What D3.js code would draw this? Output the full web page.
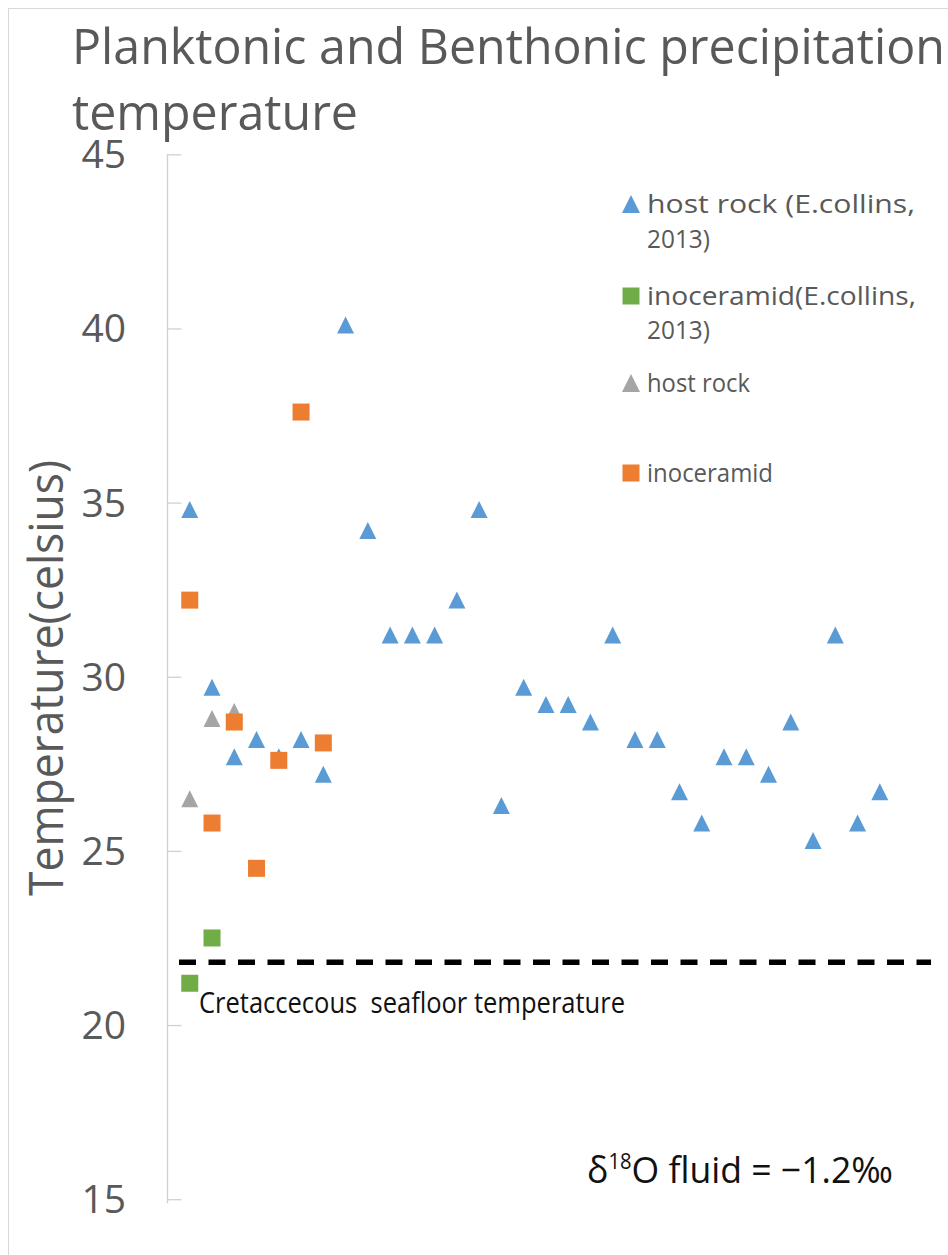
<!DOCTYPE html>
<html>
<head>
<meta charset="utf-8">
<script src="https://cdn.jsdelivr.net/npm/d3@7"></script>
<style>
  html, body { margin: 0; padding: 0; background: #fff; }
  svg { display: block; }
  text { font-family: "Open Sans", "Noto Sans", sans-serif; white-space: pre; }
</style>
</head>
<body>
<svg id="chart" width="948" height="1255"></svg>
<script>
// Sample positions (1..32) along the section
const hostRockCollins = [34.8, 29.7, 27.7, 28.2, 27.7, 28.2, 27.2, 40.1, 34.2, 31.2,
  31.2, 31.2, 32.2, 34.8, 26.3, 29.7, 29.2, 29.2, 28.7, 31.2, 28.2, 28.2, 26.7, 25.8,
  27.7, 27.7, 27.2, 28.7, 25.3, 31.2, 25.8, 26.7];
const inoceramidCollins = [21.2, 22.5];
const hostRock = [26.5, 28.8, 29.0];
const inoceramid = [32.2, 25.8, 28.7, 24.5, 27.6, 37.6, 28.1];

const yTicks = [15, 20, 25, 30, 35, 40, 45];
const seafloorTemp = 21.8;
const seafloorSpan = [0, 34.3];

const titleLines = ["Planktonic and Benthonic precipitation", "temperature"];
const yLabel = "Temperature(celsius)";
const seafloorLabel = "Cretaccecous  seafloor temperature";

const legendItems = [
  { lines: ["host rock (E.collins,", "2013)"], color: "#5b9bd5", shape: "triangle" },
  { lines: ["inoceramid(E.collins,", "2013)"], color: "#70ad47", shape: "square" },
  { lines: ["host rock"], color: "#a5a5a5", shape: "triangle" },
  { lines: ["inoceramid"], color: "#ed7d31", shape: "square" }
];

const series = [
  { values: hostRockCollins, color: "#5b9bd5", shape: "triangle" },
  { values: hostRock, color: "#a5a5a5", shape: "triangle" },
  { values: inoceramid, color: "#ed7d31", shape: "square" },
  { values: inoceramidCollins, color: "#70ad47", shape: "square" }
];

const svg = d3.select("#chart");
const textColor = "#595959";

const x = d3.scaleLinear().domain([0, 35]).range([167.5, 946.6]);
const y = d3.scaleLinear().domain([15, 45]).range([1199.2, 154.3]);

// outer chart frame
svg.append("rect")
  .attr("x", 8.5).attr("y", 8.5).attr("width", 960).attr("height", 1270)
  .attr("fill", "none").attr("stroke", "#d9d9d9").attr("stroke-width", 1);

// title (two lines, narrow face)
svg.append("text").attr("x", 72).attr("y", 64)
  .attr("fill", textColor).attr("font-size", 50)
  .attr("textLength", 873).attr("lengthAdjust", "spacingAndGlyphs")
  .text(titleLines[0]);
svg.append("text").attr("x", 72).attr("y", 130)
  .attr("fill", textColor).attr("font-size", 50)
  .attr("textLength", 286).attr("lengthAdjust", "spacingAndGlyphs")
  .text(titleLines[1]);

// y axis with inside ticks
const yAxis = d3.axisRight(y).tickValues(yTicks).tickSize(14).tickFormat("");
const yG = svg.append("g").attr("transform", `translate(${x(0)},0)`).call(yAxis);
yG.select(".domain").attr("stroke", "#d0d0d0").attr("stroke-width", 1.3)
  .attr("d", `M0,${y(45)}V${y(15) + 4}`);
yG.selectAll(".tick line").attr("stroke", "#d0d0d0").attr("stroke-width", 1.3);

svg.append("g").selectAll("text").data(yTicks).join("text")
  .attr("x", 126).attr("y", d => y(d))
  .attr("dy", "0.36em").attr("text-anchor", "end")
  .attr("fill", textColor).attr("font-size", 39)
  .text(d => d);

// y axis title
svg.append("text")
  .attr("transform", `translate(63, ${678}) rotate(-90)`)
  .attr("text-anchor", "middle").attr("fill", textColor).attr("font-size", 47)
  .attr("textLength", 436).attr("lengthAdjust", "spacingAndGlyphs")
  .text(yLabel);

// seafloor reference line
svg.append("line")
  .attr("x1", x(seafloorSpan[0])).attr("x2", x(seafloorSpan[1]))
  .attr("y1", y(seafloorTemp)).attr("y2", y(seafloorTemp))
  .attr("stroke", "#000").attr("stroke-width", 5.5)
  .attr("stroke-dasharray", "17 12.5").attr("stroke-dashoffset", 18);

svg.append("text").attr("x", 199).attr("y", 1013)
  .attr("fill", "#111").attr("font-size", 29)
  .attr("textLength", 426).attr("lengthAdjust", "spacingAndGlyphs")
  .text(seafloorLabel);

// markers
function drawMarker(g, shape, cx, cy, size, color) {
  if (shape === "square") {
    g.append("rect").attr("x", cx - size / 2).attr("y", cy - size / 2)
      .attr("width", size).attr("height", size).attr("fill", color);
  } else {
    g.append("path")
      .attr("d", `M${cx},${cy - size / 2}L${cx + size / 2},${cy + size / 2}L${cx - size / 2},${cy + size / 2}Z`)
      .attr("fill", color);
  }
}

const marks = svg.append("g");
series.forEach(s => {
  s.values.forEach((v, i) => {
    drawMarker(marks, s.shape, x(i + 1), y(v), 17, s.color);
  });
});

// legend
const legendBaselines = [[213, 248], [305, 339], [392], [482]];
const legendWidths = [[268, 63], [269, 63], [103], [126]];
const legend = svg.append("g");
legendItems.forEach((item, k) => {
  const base = legendBaselines[k];
  drawMarker(legend, item.shape, 631, base[0] - 9, item.shape === "square" ? 17 : 18, item.color);
  item.lines.forEach((line, j) => {
    legend.append("text").attr("x", 647).attr("y", base[j])
      .attr("fill", textColor).attr("font-size", 26)
      .attr("textLength", legendWidths[k][j]).attr("lengthAdjust", "spacingAndGlyphs")
      .text(line);
  });
});

// fluid composition note
const note = svg.append("text").attr("x", 587).attr("y", 1183)
  .attr("fill", "#111").attr("font-size", 37)
  .attr("textLength", 306).attr("lengthAdjust", "spacingAndGlyphs");
note.append("tspan").text("δ");
note.append("tspan").attr("font-size", 21).attr("dy", -14).text("18");
note.append("tspan").attr("dy", 14).text("O fluid = −1.2‰");
</script>
</body>
</html>
